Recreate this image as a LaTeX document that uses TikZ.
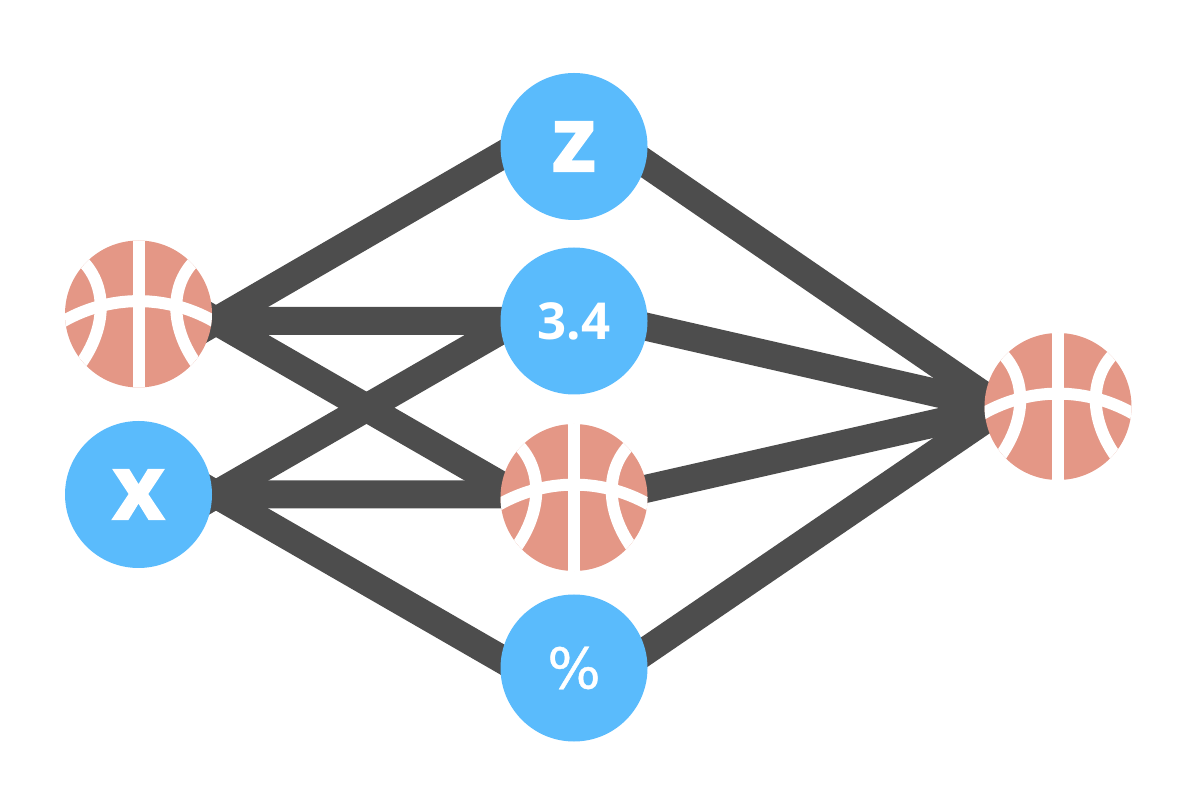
\documentclass[tikz,border=0pt]{standalone}
\usepackage{fontspec}
\setmainfont{Open Sans}
\newfontfamily\signfont{DejaVu Sans}
\usetikzlibrary{backgrounds}
\definecolor{linkgray}{HTML}{4D4D4D}
\definecolor{bubbleblue}{HTML}{5ABBFC}
\definecolor{ballred}{HTML}{E49786}
\tikzset{
	valnode/.style={circle,fill=bubbleblue,minimum size=2.94cm,inner sep=0pt,text=white,font=\bfseries\fontsize{#1}{#1}\selectfont},
	ballnode/.style={circle,fill=ballred,minimum size=2.94cm,inner sep=0pt,
		path picture={
			\begin{scope}[shift={(path picture bounding box.center)},x=0.02cm,y=0.02cm,white,line width=0.24cm]
				\draw (0,80) -- (0,-80);
				\draw (-80,-10) .. controls (-30,20.5) and (30,20.5) .. (80,-10);
				\draw (-64,60) .. controls (-29,34) and (-29,-16) .. (-64,-58);
				\draw (64,60) .. controls (29,34) and (29,-16) .. (64,-58);
			\end{scope}
		}},
	linkline/.style={linkgray,line width=0.56cm,shorten <=-0.6cm,shorten >=-0.3cm}
}
\begin{document}
\begin{tikzpicture}
	\useasboundingbox (0,0) rectangle (23.76,15.96);

	\node[ballnode] (ballA) at (2.77,9.68) {};
	\node[valnode=52pt] (valX) at (2.77,6.07) {\addfontfeature{FakeBold=1.5}x};
	\node[valnode=52pt] (valZ) at (11.48,13.03) {\addfontfeature{FakeBold=1.5}z};
	\node[valnode=29pt] (valN) at (11.48,9.54) {3.4};
	\node[ballnode] (ballB) at (11.48,6.01) {};
	\node[valnode=32pt] (valP) at (11.48,2.6) {\raisebox{-0.05cm}{\signfont\mdseries\addfontfeature{FakeBold=0.7}\%}};
	\node[ballnode] (ballC) at (21.16,7.83) {};

	% line ends sit inside the circles
	\coordinate (outA) at ([shift={(1.55,-0.14)}]ballA.center);
	\coordinate (outX) at ([xshift=1.55cm]valX.center);
	\coordinate (inZ) at ([xshift=-1.14cm]valZ.center);
	\coordinate (inN) at ([xshift=-1.14cm]valN.center);
	\coordinate (inB) at ([shift={(-1.14,0.06)}]ballB.center);
	\coordinate (inP) at ([xshift=-1.14cm]valP.center);
	\coordinate (outZ) at ([xshift=0.94cm]valZ.center);
	\coordinate (outN) at ([xshift=0.94cm]valN.center);
	\coordinate (outB) at ([shift={(0.94,0.06)}]ballB.center);
	\coordinate (outP) at ([xshift=0.94cm]valP.center);
	\coordinate (inC) at ([shift={(-1.12,-0.03)}]ballC.center);

	\begin{scope}[on background layer]
		\draw[linkline] (outA) -- (inZ);
		\draw[linkline] (outA) -- (inN);
		\draw[linkline] (outA) -- (inB);
		\draw[linkline] (outX) -- (inN);
		\draw[linkline] (outX) -- (inB);
		\draw[linkline] (outX) -- (inP);
		\draw[linkline] (outZ) -- (inC);
		\draw[linkline] (outN) -- (inC);
		\draw[linkline] (outB) -- (inC);
		\draw[linkline] (outP) -- (inC);
	\end{scope}
\end{tikzpicture}
\end{document}
